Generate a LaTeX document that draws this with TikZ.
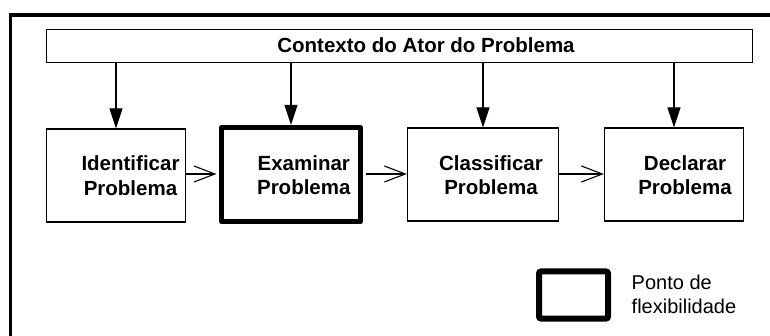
\documentclass[tikz,border=0pt]{standalone}
\usepackage{fontspec}
\setmainfont{Liberation Sans}
\usetikzlibrary{arrows.meta}
\begin{document}
\begin{tikzpicture}[x=1pt,y=-1pt,
  box/.style={draw, line width=1.2pt, inner sep=0pt, minimum height=93pt},
  flexbox/.style={draw, line width=5pt, inner sep=0pt, line join=round, minimum height=94pt},
  lbl/.style={font=\bfseries\fontsize{20.5}{24.5}\selectfont, align=center, inner sep=0pt},
  legtxt/.style={font=\fontsize{20}{24}\selectfont, align=left, inner sep=0pt, anchor=west},
  down/.style={line width=1.1pt, -{Triangle[length=20pt,width=13pt]}},
  flow/.style={line width=1.1pt, -{Straight Barb[length=21pt,width=16pt]}}]
\clip (0,0) rectangle (770,336);
% outer frame
\draw[line width=3.3pt] (10.7,15) rectangle (800,380);
% context
\node[box, minimum width=706pt, minimum height=33pt] (ctx) at (399.5,46) {};
\node[lbl] (ctxt) at (426,44.8) {Contexto do Ator do Problema};
% boxes
\node[box, minimum width=139pt] (id) at (116,175.5) {};
\node[flexbox, minimum width=139pt] (ex) at (291,174.5) {};
\node[box, minimum width=151pt] (cl) at (483,174.5) {};
\node[box, minimum width=139pt] (de) at (674,174.5) {};
\node[lbl] (idt) at (130.5,175.5) {Identificar\\Problema};
\node[lbl] (ext) at (303.8,175) {Examinar\\Problema};
\node[lbl] (clt) at (491,175) {Classificar\\Problema};
\node[lbl] (det) at (685,175) {Declarar\\Problema};
% vertical arrows
\draw[down] (id.north |- ctx.south) -- (id.north);
\draw[down] (ex.north |- ctx.south) -- (ex.north);
\draw[down] (cl.north |- ctx.south) -- (cl.north);
\draw[down] (de.north |- ctx.south) -- (de.north);
% horizontal arrows
\draw[flow, shorten >=2.5pt] (id.east |- 0,174) -- (ex.west |- 0,174);
\draw[flow, shorten <=2.5pt] (ex.east |- 0,174) -- (cl.west |- 0,174);
\draw[flow] (cl.east |- 0,174) -- (de.west |- 0,174);
% legend
\node[draw, line width=6pt, rounded corners=2pt, inner sep=0pt, minimum width=69pt, minimum height=47pt] (leg) at (573.5,295) {};
\node[legtxt] (legt) at (631.5,294) {Ponto de\\flexibilidade};
\end{tikzpicture}
\end{document}
